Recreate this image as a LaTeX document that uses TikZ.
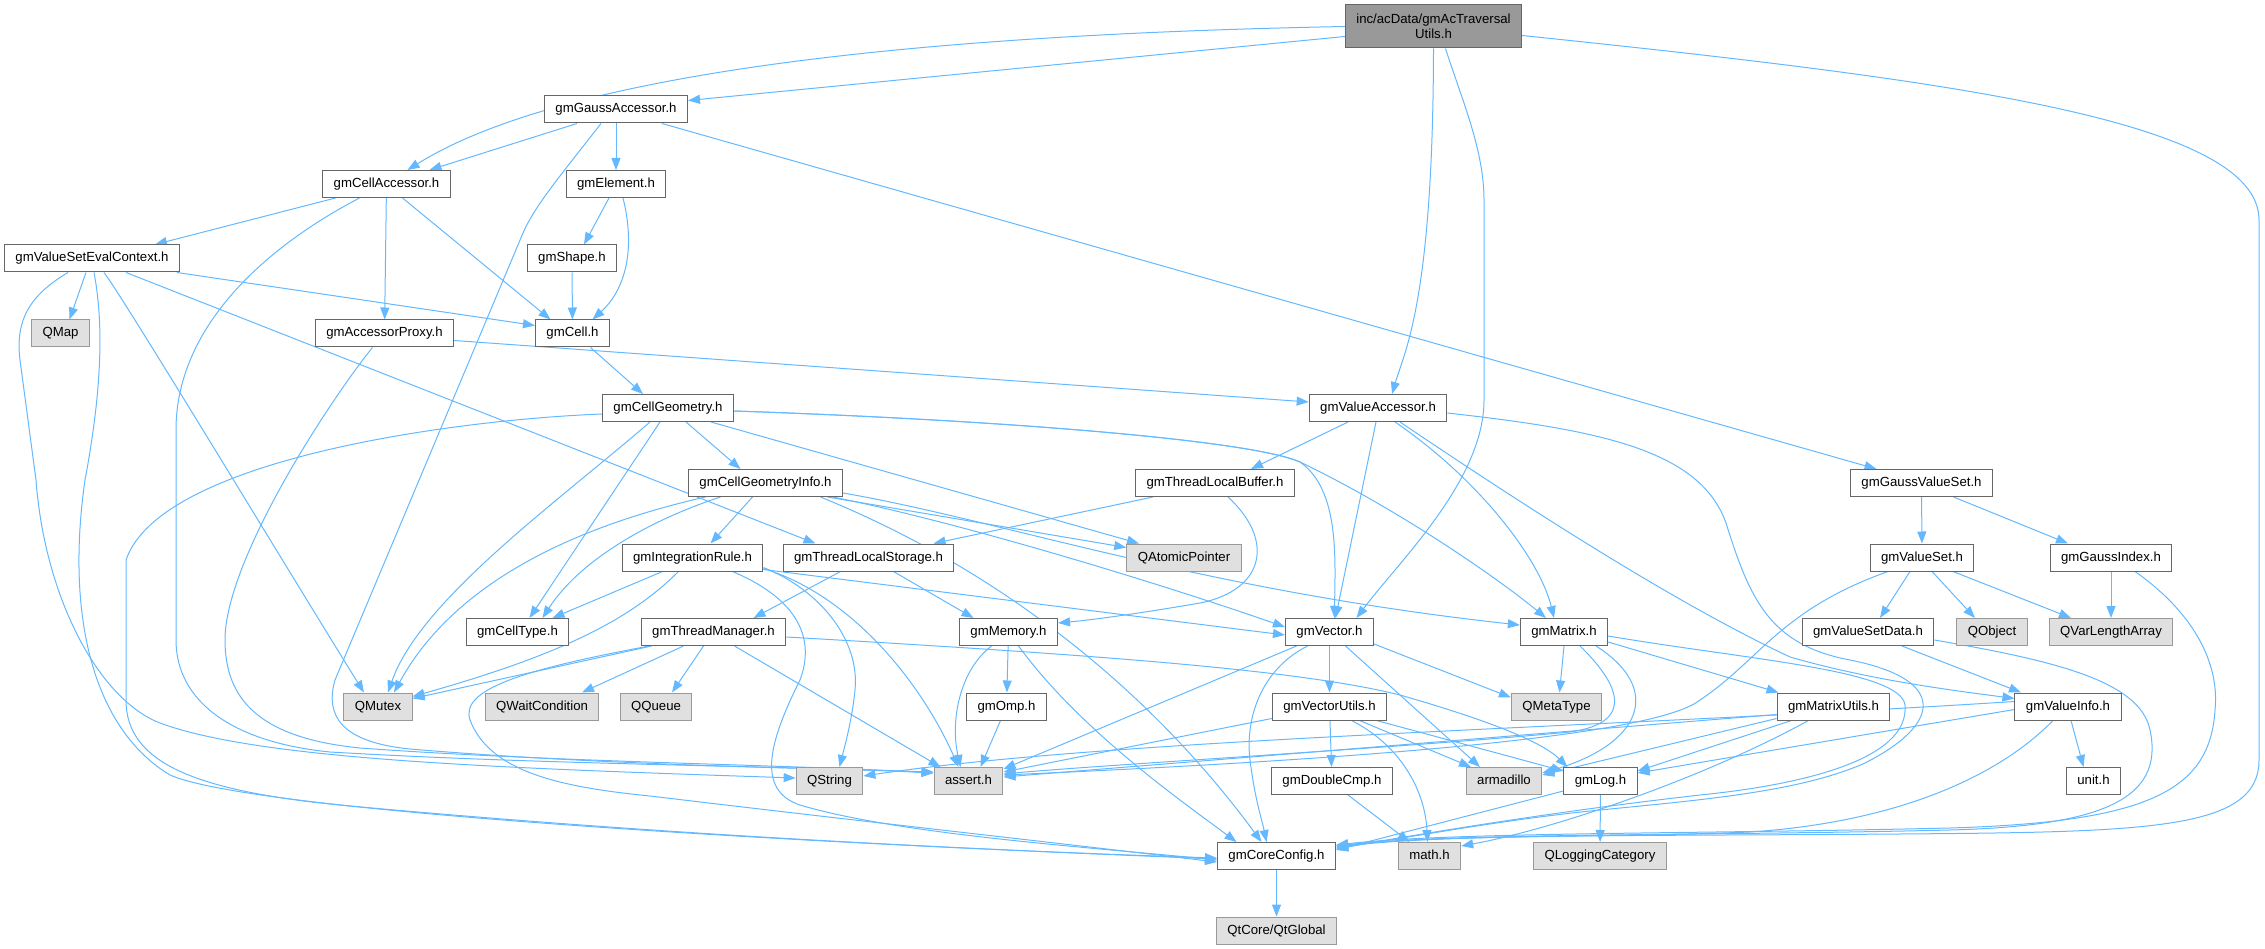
\documentclass[tikz,border=0pt]{standalone}
\usepackage{fontspec}
\setmainfont{Liberation Sans}
\usetikzlibrary{arrows.meta,backgrounds}
\definecolor{edgeblue}{HTML}{63B8FF}
\definecolor{boxline}{HTML}{666666}
\definecolor{extline}{HTML}{999999}
\definecolor{extfill}{HTML}{E0E0E0}
\definecolor{topfill}{HTML}{999999}
\newcommand\hdrfont{\fontsize{13.2}{15.3}\selectfont}
\tikzset{
  hdr/.style={draw=boxline, fill=white, line width=1pt, minimum height=27pt,
    inner xsep=11pt, inner ysep=0pt, text height=10pt, text depth=3pt, font=\hdrfont},
  ext/.style={hdr, draw=extline, fill=extfill},
  tophdr/.style={draw=boxline, fill=topfill, line width=1pt, minimum height=43pt,
    inner xsep=11pt, align=center, font=\hdrfont},
  dep/.style={draw=edgeblue, line width=1pt, -{Triangle[length=12pt,width=9pt]}}
}
\begin{document}
\begin{tikzpicture}[x=1pt,y=-1pt]
\useasboundingbox (0,0) rectangle (2265,949);

\node[tophdr] (top) at (1433.5,26.5) {inc/acData/gmAcTraversal\\Utils.h};
\node[hdr] (gaussacc) at (616,109.5) {gmGaussAccessor.h};
\node[hdr] (cellacc) at (386.5,184) {gmCellAccessor.h};
\node[hdr] (element) at (616,184) {gmElement.h};
\node[hdr] (vsec) at (92,258.5) {gmValueSetEvalContext.h};
\node[hdr] (shape) at (572,258.5) {gmShape.h};
\node[ext] (qmap) at (60.5,333.5) {QMap};
\node[hdr] (accproxy) at (384.5,333.5) {gmAccessorProxy.h};
\node[hdr] (cell) at (572.5,333.5) {gmCell.h};
\node[hdr] (cellgeom) at (668,408) {gmCellGeometry.h};
\node[hdr] (valueacc) at (1378,408) {gmValueAccessor.h};
\node[hdr] (cgi) at (765.5,483) {gmCellGeometryInfo.h};
\node[hdr] (tlbuffer) at (1215,483) {gmThreadLocalBuffer.h};
\node[hdr] (gaussvs) at (1921.5,483) {gmGaussValueSet.h};
\node[hdr] (integ) at (692.5,557.5) {gmIntegrationRule.h};
\node[hdr] (tlstorage) at (868.5,557.5) {gmThreadLocalStorage.h};
\node[ext] (qatomic) at (1184,557.5) {QAtomicPointer};
\node[hdr] (valueset) at (1922,557.5) {gmValueSet.h};
\node[hdr] (gaussidx) at (2111,557.5) {gmGaussIndex.h};
\node[hdr] (celltype) at (517.5,632) {gmCellType.h};
\node[hdr] (threadmgr) at (713.5,632) {gmThreadManager.h};
\node[hdr] (memory) at (1008.5,632) {gmMemory.h};
\node[hdr] (vector) at (1329.5,632) {gmVector.h};
\node[hdr] (matrix) at (1564,632) {gmMatrix.h};
\node[hdr] (vsdata) at (1868,632) {gmValueSetData.h};
\node[ext] (qobject) at (1992,632) {QObject};
\node[ext] (qvarlen) at (2111,632) {QVarLengthArray};
\node[ext] (qmutex) at (378,706.5) {QMutex};
\node[ext] (qwait) at (542,706.5) {QWaitCondition};
\node[ext] (qqueue) at (656,706.5) {QQueue};
\node[hdr] (omp) at (1006.5,706.5) {gmOmp.h};
\node[hdr] (vecutils) at (1329.5,706.5) {gmVectorUtils.h};
\node[ext] (qmetatype) at (1556.5,706.5) {QMetaType};
\node[hdr] (matutils) at (1833.5,706.5) {gmMatrixUtils.h};
\node[hdr] (valueinfo) at (2068,706.5) {gmValueInfo.h};
\node[ext] (qstring) at (829.5,781) {QString};
\node[ext] (assert) at (968.5,781) {assert.h};
\node[hdr] (dblcmp) at (1332,781) {gmDoubleCmp.h};
\node[ext] (armadillo) at (1504,781) {armadillo};
\node[hdr] (log) at (1600.5,781) {gmLog.h};
\node[hdr] (unit) at (2093.5,781) {unit.h};
\node[hdr] (coreconfig) at (1276.5,856) {gmCoreConfig.h};
\node[ext] (math) at (1429.5,856) {math.h};
\node[ext] (qlogging) at (1600,856) {QLoggingCategory};
\node[ext] (qtglobal) at (1276.5,930.5) {QtCore/QtGlobal};

\begin{scope}[on background layer]
\draw[dep] (top.west) .. controls (900,35) and (560,75) .. ([xshift=21pt]cellacc.north);
\draw[dep] ([yshift=-10pt]top.west) -- ([yshift=9pt]gaussacc.east);
\draw[dep] (top.south) .. controls (1433,300) and (1405,350) .. ([xshift=14pt]valueacc.north);
\draw[dep] ([xshift=12pt]top.south) .. controls (1462,100) and (1484,150) .. (1484,200) -- (1484,400) .. controls (1484,480) and (1400,560) .. ([xshift=27pt]vector.north);
\draw[dep] ([yshift=-9pt]top.east) .. controls (1950,80) and (2259,120) .. (2259,220) -- (2259,760) .. controls (2259,830) and (2150,832) .. (1900,834) .. controls (1650,836) and (1450,834) .. ([yshift=10pt]coreconfig.east);

\draw[dep] ([xshift=-39pt]gaussacc.south) -- ([xshift=43pt]cellacc.north);
\draw[dep] (gaussacc) -- (element);
\draw[dep] ([xshift=-15pt]gaussacc.south) .. controls (565,170) and (535,205) .. (523,233) -- (335,680) .. controls (325,715) and (340,742) .. (410,749) .. controls (600,765) and (800,768) .. ([yshift=9pt]assert.west);
\draw[dep] ([xshift=46pt]gaussacc.south) -- ([xshift=-45pt]gaussvs.north);

\draw[dep] ([xshift=-51pt]cellacc.south) -- ([xshift=63pt]vsec.north);
\draw[dep] ([xshift=-27pt]cellacc.south) .. controls (260,250) and (176,330) .. (176,430) -- (176,640) .. controls (176,700) and (230,742) .. (330,752) .. controls (550,765) and (800,766) .. ([yshift=8pt]assert.west);
\draw[dep] (cellacc) -- (accproxy);
\draw[dep] ([xshift=16pt]cellacc.south) -- ([xshift=-22pt]cell.north);

\draw[dep] ([xshift=-7pt]element.south) -- ([xshift=12pt]shape.north);
\draw[dep] ([xshift=7pt]element.south) .. controls (636,250) and (625,290) .. ([xshift=20pt]cell.north);
\draw[dep] (shape) -- (cell);

\draw[dep] ([xshift=-6pt]vsec.south) -- ([xshift=9pt]qmap.north);
\draw[dep] ([xshift=85pt]vsec.south) -- ([yshift=8pt]cell.west);
\draw[dep] ([xshift=34pt]vsec.south) -- ([xshift=-53pt]tlstorage.north);
\draw[dep] ([xshift=12pt]vsec.south) .. controls (125,300) and (300,590) .. ([xshift=-14pt]qmutex.north);
\draw[dep] ([xshift=-24pt]vsec.south) .. controls (30,295) and (15,320) .. (20,360) -- (36,480) .. controls (45,600) and (100,700) .. (160,723) .. controls (260,760) and (500,768) .. ([yshift=3pt]qstring.west);
\draw[dep] ([xshift=2pt]vsec.south) .. controls (105,330) and (100,400) .. (85,480) .. controls (65,620) and (95,730) .. (170,775) .. controls (260,815) and (900,848) .. ([yshift=-2pt]coreconfig.west);

\draw[dep] ([yshift=-7pt]accproxy.east) -- ([yshift=6pt]valueacc.west);
\draw[dep] ([xshift=-12pt]accproxy.south) .. controls (330,400) and (225,560) .. (225,640) .. controls (225,700) and (260,738) .. (360,748) .. controls (550,762) and (800,765) .. ([yshift=8pt]assert.west);

\draw[dep] ([xshift=18pt]cell.south) -- ([xshift=-25pt]cellgeom.north);

\draw[dep] ([xshift=18pt]cellgeom.south) -- ([xshift=-25pt]cgi.north);
\draw[dep] ([xshift=-18pt]cellgeom.south) .. controls (560,500) and (420,600) .. ([xshift=10pt]qmutex.north);
\draw[dep] ([xshift=-8pt]cellgeom.south) -- ([xshift=12pt]celltype.north);
\draw[dep] ([xshift=43pt]cellgeom.south) -- ([xshift=-45pt]qatomic.north);
\draw[dep] ([yshift=-3pt]cellgeom.east) .. controls (1000,420) and (1250,440) .. (1300,462) .. controls (1340,490) and (1335,560) .. ([xshift=5pt]vector.north);
\draw[dep] ([yshift=-3pt]cellgeom.east) .. controls (1000,420) and (1250,440) .. (1300,462) .. controls (1400,510) and (1500,580) .. ([xshift=-18pt]matrix.north);
\draw[dep] ([yshift=-6pt]cellgeom.west) .. controls (450,420) and (160,460) .. (126,560) -- (126,700) .. controls (126,765) and (200,792) .. (350,806) .. controls (700,838) and (1000,850) .. ([yshift=-3pt]coreconfig.west);

\draw[dep] ([xshift=-30pt]valueacc.south) -- ([xshift=36pt]tlbuffer.north);
\draw[dep] ([xshift=-2pt]valueacc.south) -- ([xshift=6pt]vector.north);
\draw[dep] ([xshift=17pt]valueacc.south) .. controls (1480,480) and (1540,560) .. ([xshift=-10pt]matrix.north);
\draw[dep] ([xshift=22pt]valueacc.south) .. controls (1560,530) and (1690,610) .. (1790,657) .. controls (1870,680) and (1950,690) .. ([yshift=8pt]valueinfo.west);
\draw[dep] ([yshift=-5pt]valueacc.east) .. controls (1600,430) and (1700,450) .. (1726,523) .. controls (1750,600) and (1770,645) .. (1850,660) .. controls (1950,680) and (1940,725) .. (1865,763) .. controls (1800,792) and (1700,800) .. (1600,810) .. controls (1500,820) and (1420,836) .. ([yshift=8pt]coreconfig.east);

\draw[dep] ([xshift=-45pt]cgi.south) .. controls (650,520) and (580,560) .. ([xshift=25pt]celltype.north);
\draw[dep] ([xshift=-60pt]cgi.south) .. controls (560,530) and (450,590) .. ([xshift=16pt]qmutex.north);
\draw[dep] ([xshift=-13pt]cgi.south) -- ([xshift=18pt]integ.north);
\draw[dep] ([xshift=62pt]cgi.south) -- ([yshift=10pt]qatomic.west);
\draw[dep] ([xshift=67pt]cgi.south) .. controls (950,520) and (1150,580) .. ([yshift=5pt]vector.west);
\draw[dep] ([yshift=-10pt]cgi.east) .. controls (1000,520) and (1200,590) .. ([yshift=7pt]matrix.west);
\draw[dep] ([xshift=55pt]cgi.south) .. controls (1000,570) and (1150,690) .. ([xshift=-15pt]coreconfig.north);

\draw[dep] ([xshift=-30pt]integ.south) -- ([xshift=35pt]celltype.north);
\draw[dep] ([xshift=-14pt]integ.south) .. controls (630,620) and (560,655) .. ([yshift=10pt]qmutex.east);
\draw[dep] ([xshift=40pt]integ.south) .. controls (800,600) and (815,640) .. (800,680) .. controls (770,740) and (755,790) .. (800,805) .. controls (900,835) and (1100,848) .. ([yshift=-4pt]coreconfig.west);
\draw[dep] ([yshift=-10pt]integ.east) .. controls (820,590) and (860,640) .. (855,690) .. controls (852,720) and (845,745) .. ([xshift=10pt]qstring.north);
\draw[dep] ([yshift=-11pt]integ.east) .. controls (850,595) and (920,680) .. ([xshift=-10pt]assert.north);
\draw[dep] ([yshift=-12pt]integ.east) -- ([yshift=-3pt]vector.west);

\draw[dep] ([xshift=-28pt]tlstorage.south) -- ([xshift=40pt]threadmgr.north);
\draw[dep] ([xshift=25pt]tlstorage.south) -- ([xshift=-35pt]memory.north);

\draw[dep] ([xshift=-62pt]tlbuffer.south) -- ([xshift=65pt]tlstorage.north);
\draw[dep] ([xshift=13pt]tlbuffer.south) .. controls (1275,540) and (1265,590) .. (1200,603) .. controls (1130,615) and (1090,620) .. ([yshift=9pt]memory.east);

\draw[dep] ([xshift=-62pt]threadmgr.south) -- ([yshift=8pt]qmutex.east);
\draw[dep] ([xshift=-30pt]threadmgr.south) -- ([xshift=40pt]qwait.north);
\draw[dep] ([xshift=-10pt]threadmgr.south) -- ([xshift=16pt]qqueue.north);
\draw[dep] ([xshift=21pt]threadmgr.south) -- ([xshift=-28pt]assert.north);
\draw[dep] ([yshift=-5pt]threadmgr.east) .. controls (1100,655) and (1300,670) .. (1400,695) .. controls (1480,718) and (1540,740) .. ([xshift=-33pt]log.north);
\draw[dep] ([xshift=-64pt]threadmgr.south) .. controls (520,670) and (460,690) .. (470,720) .. controls (490,772) and (560,787) .. (650,796) .. controls (850,820) and (1050,842) .. ([yshift=-6pt]coreconfig.west);

\draw[dep] (memory) -- (omp);
\draw[dep] ([xshift=-17pt]memory.south) .. controls (960,670) and (950,720) .. ([xshift=-8pt]assert.north);
\draw[dep] ([xshift=10pt]memory.south) .. controls (1080,730) and (1180,800) .. ([xshift=-40pt]coreconfig.north);
\draw[dep] ([xshift=-6pt]omp.south) -- ([xshift=12pt]assert.north);

\draw[dep] ([xshift=-33pt]vector.south) -- ([yshift=12pt]assert.east);
\draw[dep] ([xshift=-22pt]vector.south) .. controls (1260,670) and (1245,720) .. (1250,760) .. controls (1255,800) and (1262,820) .. ([xshift=-10pt]coreconfig.north);
\draw[dep] (vector) -- (vecutils);
\draw[dep] ([xshift=16pt]vector.south) -- ([xshift=-24pt]armadillo.north);
\draw[dep] ([yshift=-12pt]vector.east) -- ([yshift=9pt]qmetatype.west);

\draw[dep] ([yshift=-12pt]vecutils.west) -- ([yshift=9pt]assert.east);
\draw[dep] (vecutils) -- (dblcmp);
\draw[dep] ([xshift=22pt]vecutils.south) .. controls (1400,745) and (1425,790) .. ([xshift=-2pt]math.north);
\draw[dep] ([xshift=30pt]vecutils.south) -- ([xshift=-33pt]armadillo.north);
\draw[dep] ([xshift=47pt]vecutils.south) -- ([yshift=10pt]log.west);

\draw[dep] ([xshift=16pt]dblcmp.south) -- ([xshift=-20pt]math.north);

\draw[dep] (matrix.south) -- ([xshift=3pt]qmetatype.north);
\draw[dep] ([xshift=16pt]matrix.south) .. controls (1615,680) and (1640,722) .. (1570,732) .. controls (1400,748) and (1100,765) .. ([yshift=7pt]assert.east);
\draw[dep] ([xshift=32pt]matrix.south) .. controls (1665,690) and (1640,745) .. ([yshift=8pt]armadillo.east);
\draw[dep] ([yshift=-10pt]matrix.east) -- ([xshift=-55pt]matutils.north);
\draw[dep] ([yshift=-4pt]matrix.east) .. controls (1750,660) and (1900,670) .. (1905,705) .. controls (1910,760) and (1800,785) .. (1700,795) .. controls (1550,812) and (1420,834) .. ([yshift=7pt]coreconfig.east);

\draw[dep] ([yshift=-8pt]matutils.west) -- ([yshift=4pt]assert.east);
\draw[dep] ([yshift=-12pt]matutils.west) -- ([yshift=6pt]armadillo.east);
\draw[dep] ([xshift=-42pt]matutils.south) -- ([yshift=10pt]log.east);
\draw[dep] ([xshift=-25pt]matutils.south) .. controls (1700,780) and (1550,830) .. ([yshift=10pt]math.east);

\draw[dep] ([yshift=5pt]valueinfo.west) .. controls (1600,728) and (1120,738) .. ([yshift=5pt]qstring.east);
\draw[dep] ([yshift=-3pt]valueinfo.west) -- ([yshift=8pt]log.east);
\draw[dep] ([xshift=-15pt]valueinfo.south) .. controls (2000,775) and (1900,822) .. (1750,832) .. controls (1600,838) and (1450,834) .. ([yshift=9pt]coreconfig.east);
\draw[dep] ([xshift=3pt]valueinfo.south) -- ([xshift=-10pt]unit.north);

\draw[dep] ([xshift=34pt]vsdata.south) -- ([xshift=-47pt]valueinfo.north);
\draw[dep] ([yshift=-8pt]vsdata.east) .. controls (2050,660) and (2140,680) .. (2150,730) .. controls (2165,800) and (2100,826) .. (1950,830) .. controls (1700,836) and (1450,833) .. ([yshift=10pt]coreconfig.east);

\draw[dep] ([xshift=-12pt]valueset.south) -- ([xshift=12pt]vsdata.north);
\draw[dep] ([xshift=10pt]valueset.south) -- ([xshift=-17pt]qobject.north);
\draw[dep] ([xshift=31pt]valueset.south) -- ([xshift=-40pt]qvarlen.north);
\draw[dep] ([xshift=-34pt]valueset.south) .. controls (1780,610) and (1760,660) .. (1700,700) .. controls (1650,740) and (1300,762) .. ([yshift=6pt]assert.east);

\draw[dep] (gaussidx) -- (qvarlen);
\draw[dep] ([xshift=24pt]gaussidx.south) .. controls (2190,610) and (2220,660) .. (2215,710) .. controls (2210,790) and (2150,822) .. (1950,828) .. controls (1700,834) and (1450,832) .. ([yshift=11pt]coreconfig.east);

\draw[dep] (gaussvs) -- (valueset);
\draw[dep] ([xshift=32pt]gaussvs.south) -- ([xshift=-43pt]gaussidx.north);

\draw[dep] (log) -- (qlogging);
\draw[dep] ([yshift=-10pt]log.west) -- ([yshift=6pt]coreconfig.east);

\draw[dep] (coreconfig) -- (qtglobal);
\end{scope}
\end{tikzpicture}
\end{document}
